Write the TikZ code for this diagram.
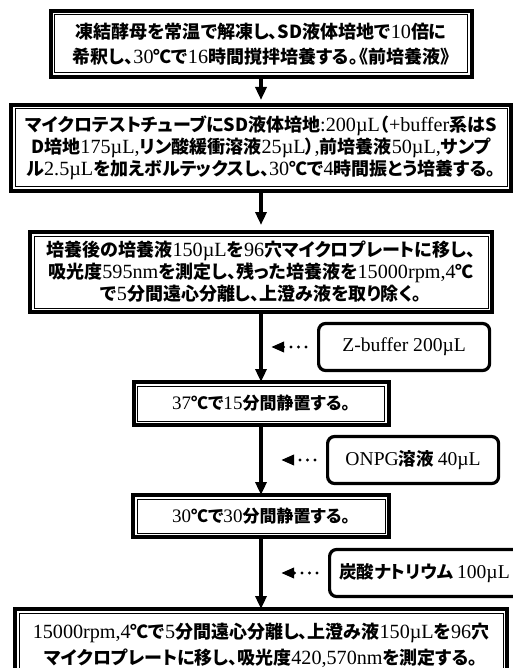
\documentclass[tikz,border=0pt]{standalone}
\usepackage{fontspec}
\usepackage{tikz}
\usetikzlibrary{arrows.meta, positioning}

\setmainfont{Liberation Serif}[Scale=1.12]
\newfontfamily\jpfont{Noto Sans CJK JP}[RawFeature=+palt]
\newcommand\gth[1]{{\XeTeXinterchartokenstate=0 \jpfont\bfseries #1}}
\newcommand\boxfont[2]{\XeTeXinterchartokenstate=1 \fontsize{#1}{#2}\selectfont}

% kana, kanji and full-width forms go to the Japanese font
\newXeTeXintercharclass\jpclass
\newcount\jpc
\newcommand\jprange[2]{\jpc=#1\relax
  \loop\XeTeXcharclass\jpc=\jpclass
  \ifnum\jpc<#2\relax\advance\jpc by 1\relax\repeat}
\jprange{"3000}{"30FF}
\jprange{"4E00}{"9FFF}
\jprange{"FF00}{"FFEF}
\XeTeXcharclass"2103=\jpclass
\XeTeXinterchartoks 0 \jpclass={\jpfont\bfseries}
\XeTeXinterchartoks 4095 \jpclass={\jpfont\bfseries}
\XeTeXinterchartoks \jpclass 0={\rmfamily\mdseries}
\XeTeXinterchartoks 4095 0={\rmfamily\mdseries}

\begin{document}
\begin{tikzpicture}[x=1pt, y=1pt,
    stepbox/.style={draw, line width=4pt, outer sep=0pt, inner sep=0pt, align=center,
      font=\boxfont{18}{#1},
      append after command={\pgfextra{\draw[line width=1pt]
        ([shift={(4pt,-4pt)}]\tikzlastnode.north west) rectangle
        ([shift={(-4pt,4pt)}]\tikzlastnode.south east);}}},
    stepbox/.default=22,
    addbox/.style={draw, line width=3.2pt, rounded corners=7pt, align=center,
      minimum width=171pt, minimum height=47pt, inner sep=0pt,
      font=\boxfont{17.5}{22}},
    flow/.style={line width=3.5pt, -{Triangle[length=13pt, width=11pt]}},
    feed/.style={line width=3.2pt, line cap=round, dash pattern=on 0pt off 7.5pt,
      -{Triangle[length=13pt, width=10pt]}, shorten <=11pt}]
    \useasboundingbox (0,0) rectangle (513,-668);

    % Add the steps
        \node[stepbox=25,
              minimum width=421pt,
              minimum height=66pt] (s1) at (261,-44)
              {凍結酵母を常温で解凍し、\gth{SD}液体培地で10倍に\\希釈し、30℃で16時間撹拌培養する。\kern1.5pt《前培養液》};
        \node[stepbox,
              below=28pt of s1,
              minimum width=500pt,
              minimum height=86pt] (s2)
              {マイクロテストチューブに\gth{SD}液体培地:200µL（+buffer系は\gth{S}\\\gth{D}培地175µL,リン酸緩衝溶液25µL）,前培養液50µL,サンプ\\ル2.5µLを加えボルテックスし、30℃で4時間振とう培養する。};
        \node[stepbox,
              below=41pt of s2,
              minimum width=462pt,
              minimum height=80pt] (s3)
              {培養後の培養液150µLを96穴マイクロプレートに移し、\\吸光度595nmを測定し、残った培養液を15000rpm,4℃\\で5分間遠心分離し、上澄み液を取り除く。};
        \node[stepbox,
              below=70pt of s3,
              font=\boxfont{17}{22},
              minimum width=255pt,
              minimum height=43pt] (s4) {37℃で15分間静置する。};
        \node[stepbox,
              below=70pt of s4,
              font=\boxfont{17}{22},
              minimum width=256pt,
              minimum height=42pt] (s5) {30℃で30分間静置する。};
        \node[stepbox=26,
              below=72pt of s5,
              minimum width=492pt,
              minimum height=72pt] (s6)
              {15000rpm,4℃で5分間遠心分離し、上澄み液150µLを96穴\\マイクロプレートに移し、吸光度420,570nmを測定する。};

    % Add the reagents
        \path (s3.south) -- (s4.north) coordinate[midway] (m1);
        \path (s4.south) -- (s5.north) coordinate[midway] (m2);
        \path (s5.south) -- (s6.north) coordinate[midway] (m3);
        \node[addbox, right=56pt of m1] (zbuf) {Z-buffer 200µL};
        \node[addbox, right=65pt of m2] (onpg) {ONPG溶液 40µL};
        \node[addbox, right=67pt of m3, minimum width=190pt] (naco) {炭酸ナトリウム 100µL};

        \draw[flow]
            (s1) edge[shorten >=5pt] (s2)
            (s2) edge[shorten >=7pt] (s3)
            (s3) edge (s4)
            (s4) edge (s5)
            (s5) edge (s6);

        \draw[feed, shorten >=10pt] (zbuf) -- (m1);
        \draw[feed, shorten >=20pt] (onpg) -- (m2);
        \draw[feed, shorten >=20pt] (naco) -- (m3);

    \end{tikzpicture}
\end{document}
